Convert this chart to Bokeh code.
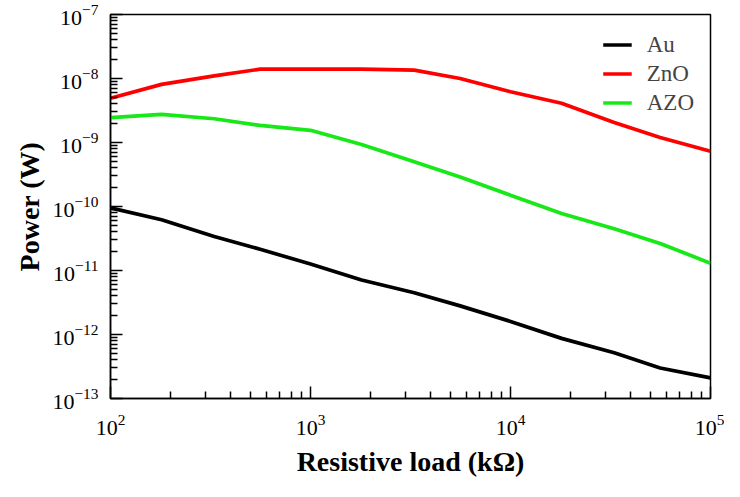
from bokeh.plotting import figure
from bokeh.models import Range1d, FixedTicker, Legend, LegendItem
from bokeh.embed import file_html
from bokeh.resources import INLINE

# Data
load_kohm = [100, 180, 330, 560, 1000, 1800, 3300, 5600, 10000, 18000, 33000, 56000, 100000]
power_au = [9.5e-11, 6.2e-11, 3.4e-11, 2.15e-11, 1.26e-11, 7.1e-12, 4.5e-12, 2.8e-12,
            1.6e-12, 8.7e-13, 5.2e-13, 3.0e-13, 2.1e-13]
power_zno = [4.9e-9, 8.1e-9, 1.1e-8, 1.4e-8, 1.4e-8, 1.4e-8, 1.35e-8, 1.0e-8,
             6.2e-9, 4.1e-9, 2.05e-9, 1.2e-9, 7.3e-10]
power_azo = [2.45e-9, 2.75e-9, 2.35e-9, 1.85e-9, 1.55e-9, 9.3e-10, 5.0e-10, 2.9e-10,
             1.5e-10, 7.8e-11, 4.5e-11, 2.65e-11, 1.3e-11]

series_names = ["Au", "ZnO", "AZO"]
series_colors = ["#000000", "#ff0000", "#18e818"]

x_decades = [2, 3, 4, 5]
y_decades = [-13, -12, -11, -10, -9, -8, -7]

FONT = "Liberation Serif"

p = figure(
    x_axis_type="log", y_axis_type="log",
    x_range=Range1d(1e2, 1e5), y_range=Range1d(1e-13, 1e-7),
    frame_width=600, frame_height=384,
    min_border_left=110, min_border_right=14, min_border_top=14, min_border_bottom=80,
    output_backend="svg", toolbar_location=None,
)

for name, ys, col in zip(series_names, [power_au, power_zno, power_azo], series_colors):
    p.line(load_kohm, ys, line_color=col, line_width=3.7)

renderers = p.renderers
legend = Legend(items=[LegendItem(label=n, renderers=[r]) for n, r in zip(series_names, renderers)])
legend.location = "top_right"
legend.margin = 16
legend.padding = 0
legend.spacing = 0
legend.glyph_width = 29
legend.glyph_height = 29
legend.label_height = 29
legend.label_standoff = 15
legend.label_text_font = FONT
legend.label_text_font_size = "23px"
legend.border_line_color = None
legend.background_fill_alpha = 0
p.add_layout(legend)

x_minor = [m * 10 ** d for d in x_decades[:-1] for m in range(2, 10)]
y_minor = [m * 10.0 ** d for d in y_decades[:-1] for m in range(2, 10)]
p.xaxis.ticker = FixedTicker(ticks=[10 ** d for d in x_decades], minor_ticks=x_minor)
p.yaxis.ticker = FixedTicker(ticks=[10.0 ** d for d in y_decades], minor_ticks=y_minor)

for ax in (p.xaxis[0], p.yaxis[0]):
    ax.axis_line_color = "black"
    ax.axis_line_width = 1.5
    ax.major_tick_in = 12
    ax.major_tick_out = 0
    ax.minor_tick_in = 7
    ax.minor_tick_out = 0
    ax.major_tick_line_width = 1.5
    ax.minor_tick_line_width = 1.5
    ax.major_label_text_font = FONT
    ax.major_label_text_font_size = "22px"
    ax.major_label_text_color = "black"
    ax.axis_label_text_font = FONT
    ax.axis_label_text_font_size = "28px"
    ax.axis_label_text_font_style = "bold"
    ax.axis_label_text_color = "black"

p.xaxis.axis_label = "Resistive load (kΩ)"
p.yaxis.axis_label = "Power (W)"
p.xaxis.major_label_standoff = 16
p.yaxis.major_label_standoff = 12
p.xaxis.axis_label_standoff = 8
p.yaxis.axis_label_standoff = 4

p.xgrid.visible = False
p.ygrid.visible = False
p.outline_line_color = "black"
p.outline_line_width = 1.5
p.background_fill_color = "white"
p.border_fill_color = "white"

open("out.html", "w").write(file_html(p, INLINE))
